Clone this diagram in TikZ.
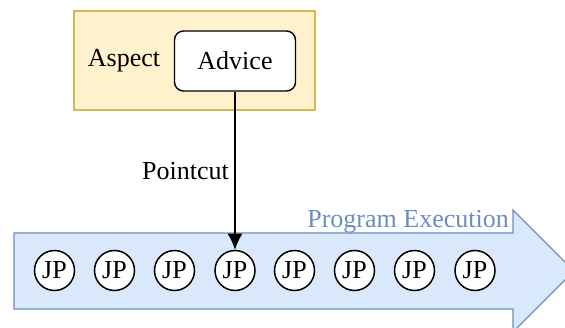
\documentclass[tikz,border=0pt]{standalone}
\usepackage{fontspec}
\usetikzlibrary{arrows.meta}
\setmainfont{Liberation Serif}
\definecolor{aspfill}{HTML}{FFF2CC}
\definecolor{aspdraw}{HTML}{D6B656}
\definecolor{exfill}{HTML}{DAE8FC}
\definecolor{exdraw}{HTML}{6C8EBF}
\begin{document}
\begin{tikzpicture}[x=1pt,y=-1pt,
  lbl/.style={font=\fontsize{26}{26}\selectfont,inner sep=0pt},
  jp/.style={circle,draw=black,fill=white,line width=1.5pt,minimum size=40pt,inner sep=0pt,font=\fontsize{26}{26}\selectfont}]
\useasboundingbox (0,0) rectangle (565,328);
\clip (0,0) rectangle (565,328);
% aspect
\draw[fill=aspfill,draw=aspdraw,line width=1.3pt] (74,11) rectangle (315,110);
\node[lbl] (aspect) at (124,61) {Aspect};
\node[draw=black,fill=white,rounded corners=9pt,line width=1.4pt,minimum width=121pt,minimum height=60pt,lbl] (advice) at (235,61) {Advice};
% execution arrow
\draw[fill=exfill,draw=exdraw,line width=1.3pt] (14,233) -- (513,233) -- (513,210) -- (574,271) -- (513,332) -- (513,309) -- (14,309) -- cycle;
\node[lbl,text=exdraw,anchor=base east] (prog) at (509,228) {Program Execution};
\foreach \i/\x in {1/54.5,2/114.5,3/174.5,4/235,5/294.5,6/354.5,7/414.5,8/475}{
  \node[jp] (jp\i) at (\x,270.5) {JP};
}
\draw[-{Latex[length=16pt,width=15pt]},line width=1.4pt] (advice.south) -- (jp4.north);
\node[lbl,anchor=base east] (pc) at (229,180) {Pointcut};
\end{tikzpicture}
\end{document}
